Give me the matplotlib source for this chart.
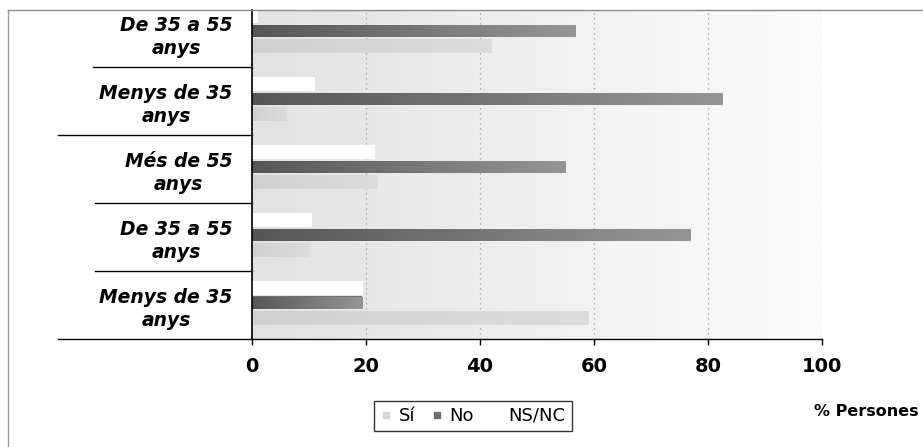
import numpy as np
import matplotlib
matplotlib.use("Agg")
import matplotlib.pyplot as plt
from matplotlib.lines import Line2D
from matplotlib.colors import LinearSegmentedColormap

# ---- data (bottom to top) ----
categories = ["Menys de 35\nanys", "De 35 a 55\nanys", "Més de 55\nanys",
              "Menys de 35\nanys", "De 35 a 55\nanys"]
si = [59, 10, 22, 6, 42]
no = [19.3, 77, 55, 82.5, 56.7]
nsnc = [19.5, 10.5, 21.6, 11, 1]
series_names = ["Sí", "No", "NS/NC"]
xticks = [0, 20, 40, 60, 80, 100]
axis_label = "% Persones"

W, H = 923, 447
fig = plt.figure(figsize=(W / 100, H / 100), dpi=100)
fig.patch.set_facecolor("white")
ax = fig.add_axes([252 / W, 1 - 339 / H, 570 / W, 329 / H])

y = np.arange(len(categories))
ytop = -0.5 + 329 / 68.0

# background gradient
bg = LinearSegmentedColormap.from_list("bg", ["#e2e2e2", "#f0f0f0", "#fcfcfc"])
ax.imshow(np.linspace(0, 1, 256).reshape(1, -1), extent=[0, 100, -0.5, ytop],
          cmap=bg, aspect="auto", zorder=0, interpolation="bilinear")

b_si = ax.barh(y - 0.19, si, height=0.2, color="#d6d6d6", zorder=2, linewidth=0)
b_no = ax.barh(y + 0.03, no, height=0.19, color="#707070", zorder=2, linewidth=0)
b_ns = ax.barh(y + 0.25, nsnc, height=0.21, color="#ffffff", zorder=2, linewidth=0)

grad = np.linspace(0, 1, 128).reshape(1, -1)


def shade(container, colors):
    cmap = LinearSegmentedColormap.from_list("c", colors)
    for p in container:
        x0, y0 = p.get_x(), p.get_y()
        w, hh = p.get_width(), p.get_height()
        im = ax.imshow(grad, extent=[x0, x0 + w, y0, y0 + hh], cmap=cmap,
                       aspect="auto", zorder=2.1, interpolation="bilinear")
        im.set_clip_path(p)


shade(b_no, ["#565656", "#767676", "#959595"])
shade(b_si, ["#d0d0d0", "#dcdcdc"])

ax.set_xlim(0, 100)
ax.set_ylim(-0.5, ytop)

ax.set_xticks(xticks)
ax.set_xticklabels([str(t) for t in xticks], fontsize=14, fontweight="bold")
ax.tick_params(axis="x", direction="out", length=4, width=1, pad=9, color="black")
ax.xaxis.grid(True, linestyle=(0, (1, 3)), color="#9a9a9a", linewidth=0.9, zorder=1)
ax.set_axisbelow(True)

ax.set_yticks(y)
ax.set_yticklabels(categories, fontsize=13.5, fontweight="bold", style="italic",
                   ha="right", multialignment="center", linespacing=1.3)
ax.tick_params(axis="y", length=0, pad=14)

for s in ["top", "right"]:
    ax.spines[s].set_visible(False)
ax.spines["left"].set_linewidth(1.2)
ax.spines["bottom"].set_linewidth(1.0)

# category separators
for yb, x0 in [(-0.5, -0.34), (0.5, -0.2754), (1.5, -0.2754), (2.5, -0.34), (3.5, -0.279)]:
    ax.plot([x0, 0], [yb, yb], transform=ax.get_yaxis_transform(), color="black",
            linewidth=1.0, clip_on=False, zorder=3)

# outer frame lines
fig.add_artist(Line2D([8 / W, 1], [1 - 10 / H, 1 - 10 / H], color="#8a8a8a", linewidth=1))
fig.add_artist(Line2D([8 / W, 8 / W], [0, 1 - 10 / H], color="#9a9a9a", linewidth=1))

fig.text(0.995, 1 - 412 / H, axis_label, ha="right", va="center",
         fontsize=11.5, fontweight="bold")

handles = [
    Line2D([], [], marker="s", linestyle="none", markersize=5,
           markerfacecolor="#d6d6d6", markeredgecolor="#d6d6d6"),
    Line2D([], [], marker="s", linestyle="none", markersize=5,
           markerfacecolor="#6e6e6e", markeredgecolor="#6e6e6e"),
    Line2D([], [], marker="s", linestyle="none", markersize=5,
           markerfacecolor="#ffffff", markeredgecolor="#ffffff"),
]
leg = fig.legend(handles, series_names, loc="center", bbox_to_anchor=(473 / W, 1 - 416 / H),
                 ncol=3, frameon=True, fancybox=False, edgecolor="black",
                 handlelength=0.6, handletextpad=0.4, columnspacing=0.9,
                 borderpad=0.35, prop={"family": "DejaVu Sans", "size": 13})
leg.get_frame().set_linewidth(1.0)

fig.savefig("out.png", dpi=100)
